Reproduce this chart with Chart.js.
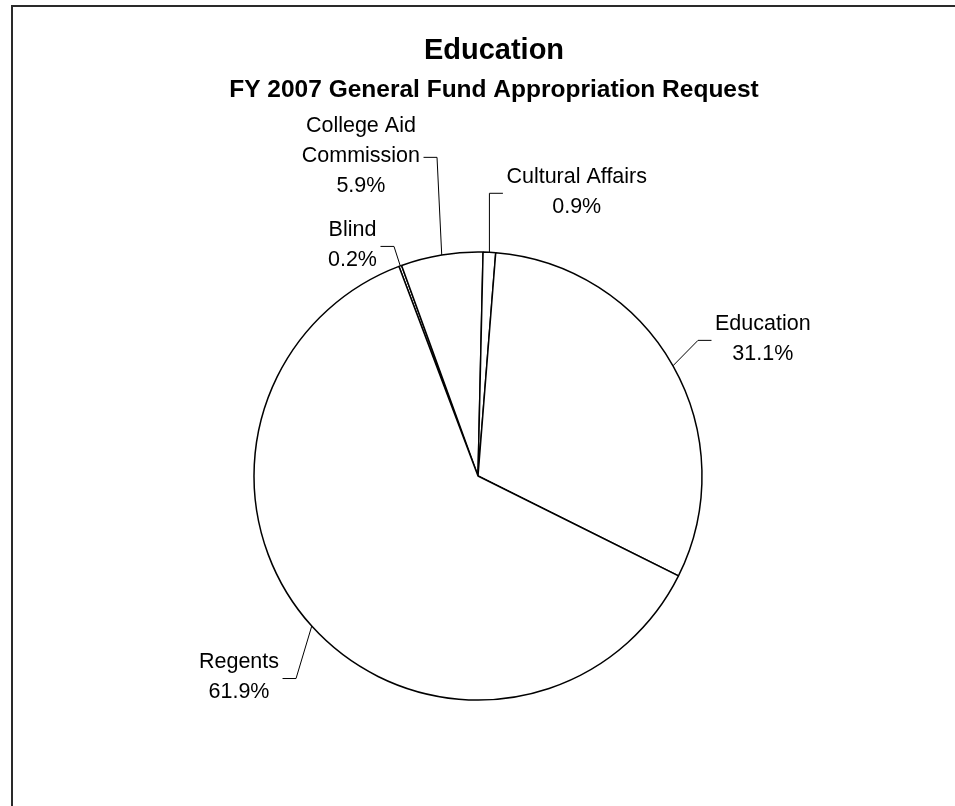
<!DOCTYPE html>
<html>
<head>
<meta charset="utf-8">
<script src="https://cdn.jsdelivr.net/npm/chart.js@4/dist/chart.umd.min.js"></script>
<style>
  html, body { margin: 0; padding: 0; background: #fff; overflow: hidden; }
  #frame {
    position: absolute; left: 11px; top: 5px;
    width: 2000px; height: 2000px;
    border: 2px solid #2a2a2a;
  }
  #wrap { position: absolute; left: 0; top: 0; width: 955px; height: 806px; }
</style>
</head>
<body>
<div id="frame"></div>
<div id="wrap"><canvas id="chart"></canvas></div>
<script>
const categories = ['Blind', ['College Aid', 'Commission'], 'Cultural Affairs', 'Education', 'Regents'];
const shares = [0.2, 5.9, 0.9, 31.1, 61.9];

// where each leader line bends, relative to the slice's outer edge point
const leaderBends = [[-6.3, -19.5], [-4.7, -97.6], [0, -59], [25, -25.4], [-15.7, 52.4]];

const FONT = '"Liberation Sans", Arial, sans-serif';

const titles = {
  id: 'titles',
  afterDraw(chart) {
    const ctx = chart.ctx;
    ctx.save();
    ctx.fillStyle = '#000';
    ctx.textAlign = 'center';
    ctx.textBaseline = 'middle';
    ctx.font = 'bold 29px ' + FONT;
    ctx.fillText('Education', 494, 51);
    ctx.font = 'bold 24.5px ' + FONT;
    ctx.fillText('FY 2007 General Fund Appropriation Request', 494, 90);
    ctx.restore();
  }
};

const sliceLabels = {
  id: 'sliceLabels',
  afterDatasetsDraw(chart) {
    const ctx = chart.ctx;
    const meta = chart.getDatasetMeta(0);
    const labels = chart.data.labels;
    const values = chart.data.datasets[0].data;
    ctx.save();
    ctx.font = '21.5px ' + FONT;
    ctx.fillStyle = '#000';
    ctx.strokeStyle = '#000';
    ctx.lineWidth = 1;
    ctx.textBaseline = 'middle';
    ctx.textAlign = 'center';
    meta.data.forEach((arc, i) => {
      const p = arc.getProps(['x', 'y', 'startAngle', 'endAngle', 'outerRadius'], true);
      const mid = (p.startAngle + p.endAngle) / 2;
      const ex = p.x + Math.cos(mid) * p.outerRadius;
      const ey = p.y + Math.sin(mid) * p.outerRadius;
      const bx = ex + leaderBends[i][0];
      const by = ey + leaderBends[i][1];
      const dir = Math.cos(mid) < 0 ? -1 : 1;
      const hx = bx + dir * 13.5;

      ctx.beginPath();
      ctx.moveTo(ex, ey);
      ctx.lineTo(bx, by);
      ctx.lineTo(hx, by);
      ctx.stroke();

      const lines = [].concat(labels[i], values[i].toFixed(1) + '%');
      const w = Math.max(...lines.map(s => ctx.measureText(s).width));
      const cx = hx + dir * (3.5 + w / 2);
      lines.forEach((s, k) => {
        ctx.fillText(s, cx, by - 1.5 + (k - (lines.length - 1) / 2) * 30);
      });
    });
    ctx.restore();
  }
};

new Chart('chart', {
  type: 'pie',
  data: {
    labels: categories,
    datasets: [{
      data: shares,
      backgroundColor: '#fff',
      borderColor: '#000',
      borderWidth: 1.5,
      radius: 224
    }]
  },
  options: {
    responsive: true,
    maintainAspectRatio: false,
    animation: false,
    rotation: -20.66,
    layout: { padding: { left: 254, right: 253, top: 252, bottom: 106 } },
    plugins: {
      legend: { display: false },
      tooltip: { enabled: false },
      title: { display: false }
    },
    events: []
  },
  plugins: [sliceLabels, titles]
});
</script>
</body>
</html>
